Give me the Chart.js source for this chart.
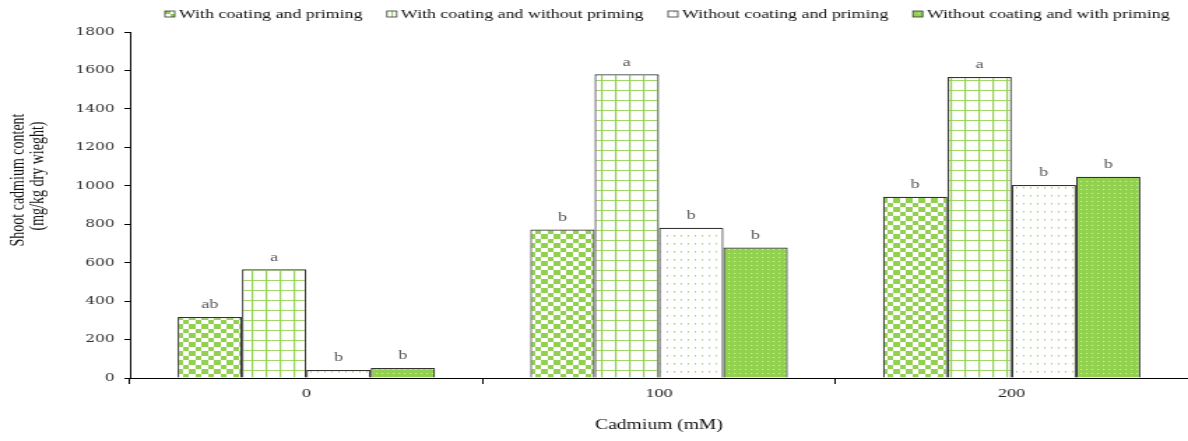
<!DOCTYPE html>
<html>
<head>
<meta charset="utf-8">
<script src="https://cdn.jsdelivr.net/npm/chart.js@4/dist/chart.umd.min.js"></script>
<style>
  html, body { margin: 0; padding: 0; background: #fff; overflow: hidden; }
  #wrap { width: 850px; height: 441px; transform: scaleX(1.39765); transform-origin: 0 0; }
  canvas { display: block; }
</style>
</head>
<body>
<div id="wrap"><canvas id="c" width="850" height="441"></canvas></div>
<script>
// Shoot cadmium content by cadmium level and seed treatment
const categories = ['0', '100', '200'];
const seriesNames = [
  'With coating and priming',
  'With coating and without priming',
  'Without coating and priming',
  'Without coating and with priming'
];
const coatPrime       = [317, 772, 943];
const coatNoPrime     = [566, 1580, 1566];
const noCoatPrime     = [42, 782, 1004];
const noCoatWithPrime = [52, 679, 1047];
// Mean-separation letters shown above each bar
const lettersCoatPrime       = ['ab', 'b', 'b'];
const lettersCoatNoPrime     = ['a', 'a', 'a'];
const lettersNoCoatPrime     = ['b', 'b', 'b'];
const lettersNoCoatWithPrime = ['b', 'b', 'b'];
const yTicks = [0, 200, 400, 600, 800, 1000, 1200, 1400, 1600, 1800];

const GREEN = '#92d050';

function makePattern(w, h, paint) {
  const t = document.createElement('canvas');
  t.width = w; t.height = h;
  const g = t.getContext('2d');
  paint(g, w, h);
  return document.getElementById('c').getContext('2d').createPattern(t, 'repeat');
}
// checkerboard
const patChecker = makePattern(9, 9, (g) => {
  g.fillStyle = '#fff'; g.fillRect(0, 0, 9, 9);
  g.fillStyle = GREEN;
  g.fillRect(0, 0, 5, 5);
  g.fillRect(5, 5, 4, 4);
});
// open grid
const patGrid = makePattern(10, 10, (g) => {
  g.fillStyle = '#fff'; g.fillRect(0, 0, 10, 10);
  g.fillStyle = GREEN;
  g.fillRect(0, 0, 1.2, 10);
  g.globalAlpha = 0.85;
  g.fillRect(0, 0, 10, 1);
});
// sparse dots
const patDots = makePattern(5, 8, (g) => {
  g.fillStyle = '#fff'; g.fillRect(0, 0, 5, 8);
  g.fillStyle = 'rgba(146,208,80,0.9)';
  g.fillRect(2, 3, 1, 1.5);
});
// solid green with light dots
const patGreenDots = makePattern(4, 4, (g) => {
  g.fillStyle = GREEN; g.fillRect(0, 0, 4, 4);
  g.fillStyle = 'rgba(255,255,255,0.55)';
  g.fillRect(1, 1, 1.2, 1);
});

const fills = [patChecker, patGrid, patDots, patGreenDots];
const values = [coatPrime, coatNoPrime, noCoatPrime, noCoatWithPrime];
const letters = [lettersCoatPrime, lettersCoatNoPrime, lettersNoCoatPrime, lettersNoCoatWithPrime];

const datasets = seriesNames.map((name, i) => ({
  label: name,
  data: values[i],
  backgroundColor: fills[i],
  borderColor: '#333',
  borderWidth: { top: 1.2, left: 1.2, right: 1.2, bottom: 0 },
  borderSkipped: false,
  categoryPercentage: 0.73,
  barPercentage: 1.0,
  letters: letters[i]
}));

// letters above bars
const letterPlugin = {
  id: 'letters',
  afterDatasetsDraw(chart) {
    const ctx = chart.ctx;
    ctx.save();
    ctx.font = '13px "Liberation Serif", serif';
    ctx.fillStyle = '#555';
    ctx.textAlign = 'center';
    ctx.textBaseline = 'middle';
    chart.data.datasets.forEach((ds, i) => {
      chart.getDatasetMeta(i).data.forEach((bar, j) => {
        ctx.fillText(ds.letters[j], bar.x, bar.y - 12);
      });
    });
    ctx.restore();
  }
};

// top legend row and rotated y title
const decorPlugin = {
  id: 'decor',
  afterDraw(chart) {
    const ctx = chart.ctx;
    ctx.save();
    ctx.font = '12.8px "Liberation Serif", serif';
    ctx.textBaseline = 'middle';
    ctx.textAlign = 'left';
    let x = 118;
    const y = 14;
    chart.data.datasets.forEach((ds) => {
      ctx.fillStyle = ds.backgroundColor;
      ctx.fillRect(x, y - 3, 7, 6);
      ctx.strokeStyle = '#333';
      ctx.lineWidth = 0.8;
      ctx.strokeRect(x, y - 3, 7, 6);
      ctx.fillStyle = '#111';
      ctx.fillText(ds.label, x + 10, y + 0.5);
      x += 10 + ctx.measureText(ds.label).width + 17.5;
    });

    ctx.font = '14px "Liberation Serif", serif';
    ctx.fillStyle = '#111';
    ctx.textAlign = 'center';
    ctx.translate(13, 180);
    ctx.rotate(-Math.PI / 2);
    ctx.fillText('Shoot cadmium content', 0, 0);
    ctx.fillText('(mg/kg dry wieght)', 4, 14);
    ctx.restore();
  }
};

new Chart(document.getElementById('c'), {
  type: 'bar',
  data: { labels: categories, datasets },
  plugins: [letterPlugin, decorPlugin],
  options: {
    responsive: false,
    animation: false,
    devicePixelRatio: 1,
    layout: { padding: { top: 32, left: 0, right: -2.5, bottom: 0 } },
    plugins: { legend: { display: false }, tooltip: { enabled: false } },
    scales: {
      x: {
        offset: true,
        grid: { display: true, offset: true, drawOnChartArea: false, drawTicks: true, tickLength: 6, color: '#000' },
        border: { display: true, color: '#000', width: 1 },
        ticks: { color: '#222', font: { family: '"Liberation Serif", serif', size: 13 }, padding: 2 },
        title: {
          display: true, text: 'Cadmium (mM)', color: '#111',
          font: { family: '"Liberation Serif", serif', size: 14 },
          padding: { top: 0, bottom: 7.5 }
        },
        afterFit(scale) { scale.height = 63; }
      },
      y: {
        min: 0, max: 1800,
        afterBuildTicks(scale) { scale.ticks = yTicks.map(v => ({ value: v })); },
        grid: { display: true, drawOnChartArea: false, drawTicks: true, tickLength: 4, color: '#000' },
        border: { display: true, color: '#000', width: 1 },
        ticks: {
          color: '#333', font: { family: '"DejaVu Serif", serif', size: 11 }, padding: 7,
          callback: (v) => String(v)
        },
        afterFit(scale) { scale.width = 93; }
      }
    }
  }
});
</script>
</body>
</html>
